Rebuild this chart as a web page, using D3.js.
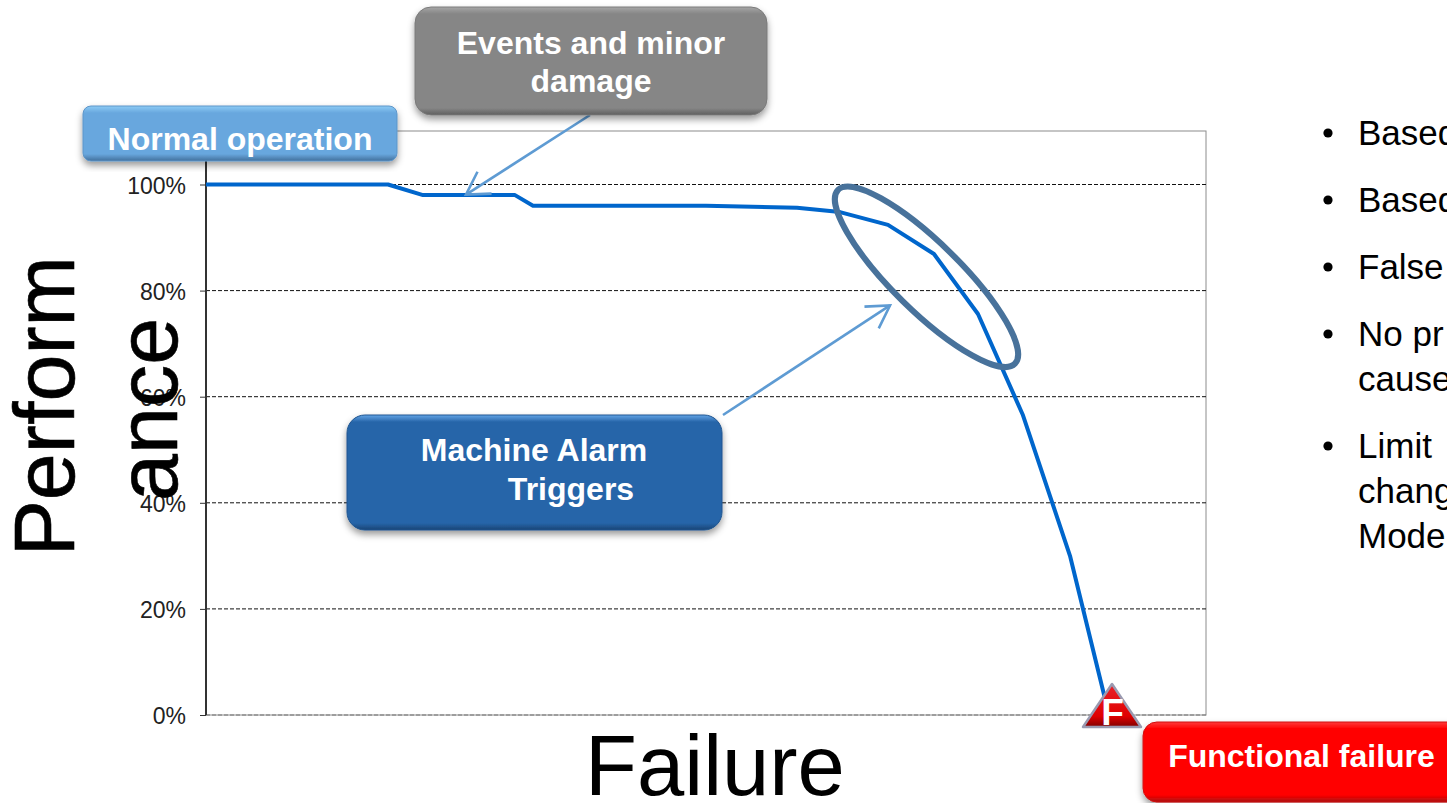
<!DOCTYPE html>
<html>
<head>
<meta charset="utf-8">
<script src="https://cdn.jsdelivr.net/npm/d3@7"></script>
<style>
  html, body { margin: 0; padding: 0; background: #fff; overflow: hidden; }
  text { font-family: "Liberation Sans", Arial, sans-serif; }
</style>
</head>
<body>
<div id="chart"></div>
<script>
// curve: life position (0-1000 across the plot) and performance in %
const lifePosition = [0, 182, 217, 309, 327, 500, 591, 634, 682, 728, 772, 817, 864, 903];
const performanceValues = [100, 100, 98, 98, 96, 96, 95.6, 94.8, 92.4, 86.9, 75.6, 56.5, 30, 0];
const yTicks = [0, 20, 40, 60, 80, 100];
const yTitleLines = ["Perform", "ance"];
const xTitle = "Failure";
const bulletLines = [["Based"], ["Based"], ["False"], ["No pr", "cause"], ["Limit", "chang", "Mode"]];

const svg = d3.select("#chart").append("svg")
    .attr("width", 1447)
    .attr("height", 803)
    .style("display", "block");

const defs = svg.append("defs");

// soft shadow used under the callouts
const shadow = defs.append("filter").attr("id", "shadow")
    .attr("x", "-5%").attr("y", "-10%").attr("width", "110%").attr("height", "130%");
shadow.append("feDropShadow")
    .attr("dx", 0).attr("dy", 4).attr("stdDeviation", 3.5)
    .attr("flood-color", "#000").attr("flood-opacity", 0.4);

function bevel(id, topColor, main, bottom, h) {
    const g = defs.append("linearGradient").attr("id", id)
        .attr("x1", 0).attr("y1", 0).attr("x2", 0).attr("y2", 1);
    const edge = 7 / h * 100;
    g.append("stop").attr("offset", "0%").attr("stop-color", topColor);
    g.append("stop").attr("offset", edge + "%").attr("stop-color", main);
    g.append("stop").attr("offset", (100 - edge) + "%").attr("stop-color", main);
    g.append("stop").attr("offset", "100%").attr("stop-color", bottom);
}
bevel("normalFill", "#8ccbf5", "#68a7de", "#43709c", 55);
bevel("eventsFill", "#a6a6a6", "#868686", "#5e5e5e", 108);
bevel("alarmFill", "#62a4e6", "#2765a9", "#1a4575", 115);
bevel("failFill", "#ff3a3a", "#ff0000", "#a81010", 80);

const triFill = defs.append("linearGradient").attr("id", "triFill")
    .attr("x1", 0).attr("y1", 0).attr("x2", 0).attr("y2", 1);
triFill.append("stop").attr("offset", "0%").attr("stop-color", "#e8222a");
triFill.append("stop").attr("offset", "75%").attr("stop-color", "#e00000");
triFill.append("stop").attr("offset", "100%").attr("stop-color", "#800000");

const arrow = defs.append("marker").attr("id", "openArrow")
    .attr("viewBox", "-12 -8 14 16").attr("refX", 0).attr("refY", 0)
    .attr("markerUnits", "userSpaceOnUse")
    .attr("markerWidth", 28).attr("markerHeight", 32)
    .attr("orient", "auto");
arrow.append("path")
    .attr("d", "M-11,-6.5L0,0L-11,6.5")
    .attr("fill", "none").attr("stroke", "#5e9bd3").attr("stroke-width", 1.3);

const x = d3.scaleLinear().domain([0, 1000]).range([206, 1206]);
const y = d3.scaleLinear().domain([0, 100]).range([715, 184.5]);
const plotTop = 131;

// plot frame
svg.append("rect")
    .attr("x", x(0)).attr("y", plotTop)
    .attr("width", x(1000) - x(0)).attr("height", y(0) - plotTop)
    .attr("fill", "#fff").attr("stroke", "#8c8c8c").attr("stroke-width", 1);

// dashed gridlines
svg.append("g").selectAll("line").data(yTicks).join("line")
    .attr("x1", x(0)).attr("x2", x(1000))
    .attr("y1", d => y(d)).attr("y2", d => y(d))
    .attr("stroke", d => d === 0 ? "#777" : "#111")
    .attr("stroke-width", 1)
    .attr("stroke-dasharray", "4,2");

// y axis
const yAxis = d3.axisLeft(y).tickValues(yTicks).tickFormat(d => d + "%").tickSize(6).tickPadding(14);
const yG = svg.append("g").attr("transform", `translate(${x(0)},0)`).call(yAxis);
yG.select(".domain").remove();
yG.append("line").attr("y1", plotTop).attr("y2", y(0)).attr("stroke", "#333").attr("stroke-width", 2);
yG.selectAll(".tick line").attr("stroke", "#333");
yG.selectAll(".tick text").attr("font-size", 23).attr("fill", "#222")
    .attr("dy", "0.39em")
    .attr("font-family", "'Liberation Sans', Arial, sans-serif");

// performance curve
const line = d3.line().x(d => x(d[0])).y(d => y(d[1]));
svg.append("path")
    .datum(d3.zip(lifePosition, performanceValues))
    .attr("d", line)
    .attr("fill", "none").attr("stroke", "#0066cc")
    .attr("stroke-width", 4).attr("stroke-linejoin", "round");

// ellipse round the alarm region
svg.append("ellipse")
    .attr("cx", x(720.5)).attr("cy", y(82.6))
    .attr("rx", 124).attr("ry", 34)
    .attr("transform", `rotate(44.5 ${x(720.5)} ${y(82.6)})`)
    .attr("fill", "none").attr("stroke", "#48729b").attr("stroke-width", 6);

// axis titles
svg.append("g").selectAll("text").data(yTitleLines).join("text")
    .attr("transform", (d, i) => `translate(${i === 0 ? 74 : 177},${i === 0 ? 556.5 : 501}) rotate(-90)`)
    .attr("font-size", 84.5).attr("fill", "#000")
    .attr("stroke", "#000").attr("stroke-width", 0.6)
    .text(d => d);
svg.append("text")
    .attr("x", 715).attr("y", 795).attr("text-anchor", "middle")
    .attr("font-size", 85).attr("fill", "#000")
    .text(xTitle);

// arrows
function pointer(x1, y1, x2, y2) {
    svg.append("line")
        .attr("x1", x1).attr("y1", y1).attr("x2", x2).attr("y2", y2)
        .attr("stroke", "#5e9bd3").attr("stroke-width", 2.6)
        .attr("marker-end", "url(#openArrow)");
}
pointer(590, 115, x(260), y(98.1));
pointer(723, 415, x(684), y(77.2));

// callouts
function callout(bx, by, w, h, r, fill, stroke, lines, fs) {
    svg.append("rect")
        .attr("x", bx).attr("y", by).attr("width", w).attr("height", h).attr("rx", r)
        .attr("fill", `url(#${fill})`).attr("stroke", stroke).attr("stroke-width", 1)
        .attr("filter", "url(#shadow)");
    lines.forEach(l => {
        svg.append("text")
            .attr("x", l.x).attr("y", l.y).attr("text-anchor", "middle")
            .attr("font-size", fs).attr("font-weight", "bold").attr("fill", "#fff")
            .text(l.t);
    });
}
callout(83, 106, 314, 55, 8, "normalFill", "#5d95c8",
    [{t: "Normal operation", x: 240, y: 150}], 32);
callout(415, 7, 352, 108, 16, "eventsFill", "#7a7a7a",
    [{t: "Events and minor", x: 591, y: 54}, {t: "damage", x: 591, y: 92}], 32);
callout(347, 415, 375, 115, 18, "alarmFill", "#1f5590",
    [{t: "Machine Alarm", x: 534, y: 461}, {t: "Triggers", x: 571, y: 500}], 32);
callout(1143, 722, 320, 80, 14, "failFill", "#d01010",
    [{t: "Functional failure", x: 1301.5, y: 767}], 32);

// failure marker at the end of the curve
svg.append("path")
    .attr("d", d3.line()([[x(906), 684], [x(877), 727], [x(935), 727]]) + "Z")
    .attr("fill", "url(#triFill)").attr("stroke", "#9a9ab0").attr("stroke-width", 2.5)
    .attr("stroke-linejoin", "round");
svg.append("text")
    .attr("x", x(906.5)).attr("y", 725).attr("text-anchor", "middle")
    .attr("font-size", 37).attr("font-weight", "bold").attr("fill", "#fff")
    .text("F");

// bullet list, runs off the right edge of the slide
const lineBase = [145, 212, 279, 346, 458];
bulletLines.forEach((lines, i) => {
    svg.append("circle")
        .attr("cx", 1328).attr("cy", lineBase[i] - 12).attr("r", 4.6).attr("fill", "#000");
    lines.forEach((t, j) => {
        svg.append("text")
            .attr("x", 1358).attr("y", lineBase[i] + j * 45)
            .attr("font-size", 35).attr("fill", "#000")
            .text(t);
    });
});
</script>
</body>
</html>
